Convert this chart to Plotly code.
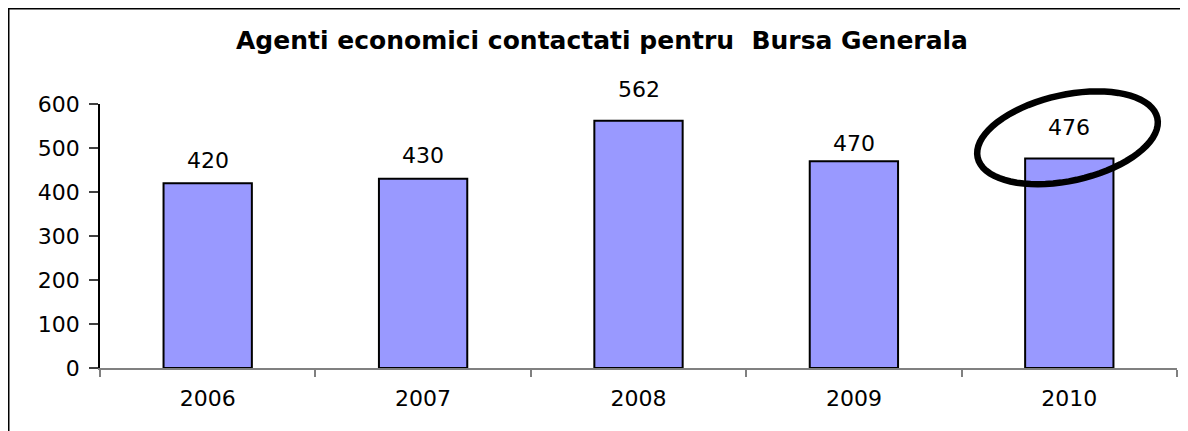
import numpy as np
import plotly.graph_objects as go

# ---- data ----
years = ["2006", "2007", "2008", "2009", "2010"]
agents = [420, 430, 562, 470, 476]
y_ticks = [0, 100, 200, 300, 400, 500, 600]
title_text = "Agenti economici contactati pentru  Bursa Generala"

# ---- style / layout (pixels, in figure coordinates; page adds 8px body margin) ----
OFF = 8
W, H = 1188 - OFF, 431 - OFF
L, R, T, B = 100 - OFF, 1188 - 1177, 104 - OFF, 431 - 368
plot_w = W - L - R
plot_h = H - T - B
label_shift = [23, 23, 31, 18, 31]  # label offsets above bar tops (px)
FONT = "DejaVu Sans, Liberation Sans, Arial, sans-serif"


def px_to_paper(px, py):
    # px, py given in reference-image pixels
    px -= OFF
    py -= OFF
    return (px - L) / plot_w, (H - B - py) / plot_h


fig = go.Figure()
fig.add_trace(go.Bar(
    x=years, y=agents,
    marker=dict(color="#9999FF", line=dict(color="#000000", width=2)),
    width=0.41,
    hoverinfo="x+y",
))

for i, (v, s) in enumerate(zip(agents, label_shift)):
    fig.add_annotation(x=i, y=v, xref="x", yref="y", text=str(v), showarrow=False,
                       yanchor="middle", yshift=s,
                       font=dict(family=FONT, size=22, color="#000000"))

# outer frame (open to the right/bottom like the reference crop)
x0, y1 = px_to_paper(8.75, 8.75)
x1, y0 = px_to_paper(1300, 500)
fig.add_shape(type="rect", xref="paper", yref="paper",
              x0=x0, y0=y0, x1=x1, y1=y1,
              line=dict(color="#000000", width=1.5), layer="below")

# hand-drawn style ellipse around the last label
cx, cy, a, b, th = 1067.5, 137.8, 92.0, 43.0, np.deg2rad(12.4)
t = np.linspace(0, 2 * np.pi, 73)
ex = cx + a * np.cos(t) * np.cos(th) + b * np.sin(t) * np.sin(th)
ey = cy - a * np.cos(t) * np.sin(th) + b * np.sin(t) * np.cos(th)
pts = [px_to_paper(px, py) for px, py in zip(ex, ey)]
path = "M " + " L ".join(f"{p[0]:.5f},{p[1]:.5f}" for p in pts) + " Z"
fig.add_shape(type="path", xref="paper", yref="paper", path=path,
              line=dict(color="#000000", width=6.5), layer="above")

fig.update_layout(
    width=W, height=H,
    margin=dict(l=L, r=R, t=T, b=B, pad=0),
    paper_bgcolor="#FFFFFF", plot_bgcolor="#FFFFFF",
    showlegend=False,
    bargap=0.59,
    title=dict(text=f"<b>{title_text}</b>", x=(602 - OFF) / W, xanchor="center",
               y=1 - (40 - OFF) / H, yanchor="middle",
               font=dict(family=FONT, size=25, color="#000000")),
    font=dict(family=FONT, color="#000000"),
)
fig.update_xaxes(
    type="category", range=[-0.5, len(years) - 0.5], autorange=False,
    showgrid=False, zeroline=False,
    showline=True, linecolor="#808080", linewidth=1.5,
    ticks="outside", tickson="boundaries", ticklen=7, tickcolor="#808080", tickwidth=1.5,
    tickfont=dict(family=FONT, size=22, color="#000000"),
    tickangle=0, ticklabelstandoff=10,
)
fig.update_yaxes(
    range=[0, 600], autorange=False, tickvals=y_ticks, showgrid=False, zeroline=False,
    showline=True, linecolor="#000000", linewidth=1.5,
    ticks="outside", ticklen=9, tickcolor="#404040", tickwidth=1.5,
    tickfont=dict(family=FONT, size=22, color="#000000"),
    ticklabelstandoff=5,
)

fig.write_html("out.html")
